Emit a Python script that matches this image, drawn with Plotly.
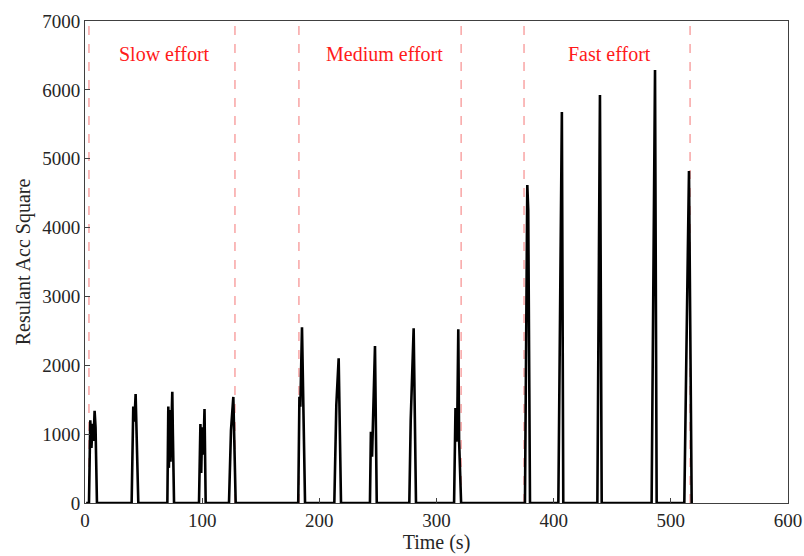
import plotly.graph_objects as go

# Time (s) and resultant acceleration square values
time_s = [1, 3.4, 4.5, 5.5, 6.5, 7.3, 8.2, 9.0, 10.2,
          39.8, 41.2, 42.2, 43.2, 45.5,
          70.3, 71.1, 71.6, 72.3, 73.0, 74.5, 75.0, 76.0,
          97.3, 98.5, 99.2, 100.0, 101.0, 102.0, 103.0,
          122.9, 124.6, 126.6, 128.6,
          182.0, 183.0, 183.8, 185.2, 187.8,
          212.8, 214.5, 216.5, 218.5,
          243.2, 244.0, 245.0, 247.5, 249.0,
          276.8, 278.0, 280.5, 282.5,
          315.0, 316.2, 317.0, 317.8, 318.6, 319.3, 321.0,
          375.5, 377.5, 378.3, 379.8,
          404.0, 407.0, 408.2,
          437.3, 439.5, 441.0,
          483.6, 486.5, 487.9,
          511.5, 513.3, 515.5, 517.8]
acc_sq = [0, 0, 1200, 800, 1150, 900, 1340, 1100, 0,
          0, 1400, 1180, 1583, 0,
          0, 1400, 510, 1350, 600, 1616, 1000, 0,
          0, 1147, 435, 1100, 700, 1365, 0,
          0, 1060, 1540, 0,
          0, 1544, 1400, 2551, 0,
          0, 1423, 2101, 0,
          0, 1035, 672, 2280, 0,
          0, 1205, 2537, 0,
          0, 1380, 890, 1300, 2522, 900, 0,
          0, 4618, 4250, 0,
          0, 5678, 0,
          0, 5925, 0,
          0, 6288, 0,
          0, 2200, 4820, 0]

# Phase boundaries (s)
boundaries = [3.4, 128.0, 182.6, 321.0, 374.7, 516.4]
phase_labels = ["Slow effort", "Medium effort", "Fast effort"]
phase_label_x = [68, 256, 448]
phase_label_y = 6520

x_ticks = [0, 100, 200, 300, 400, 500, 600]
y_ticks = [0, 1000, 2000, 3000, 4000, 5000, 6000, 7000]

FONT = "Liberation Serif, DejaVu Serif, serif"

fig = go.Figure()
fig.add_trace(go.Scatter(x=time_s, y=acc_sq, mode="lines",
                         line=dict(color="black", width=2.6),
                         showlegend=False, hoverinfo="skip"))

for b in boundaries:
    fig.add_shape(type="line", xref="x", yref="paper", x0=b, x1=b, y0=0, y1=1,
                  line=dict(color="rgba(240,60,60,0.7)", width=1, dash="dash"),
                  layer="below")

for lab, lx in zip(phase_labels, phase_label_x):
    fig.add_annotation(x=lx, y=phase_label_y, text=lab, showarrow=False,
                       font=dict(family=FONT, size=20, color="#ff1a1a"))

axis_common = dict(showline=True, linecolor="#404040", linewidth=1, mirror=True,
                   ticks="inside", ticklen=5, tickcolor="#404040",
                   showgrid=False, zeroline=False, automargin=False,
                   tickfont=dict(family=FONT, size=19, color="#262626"))

fig.update_xaxes(range=[0, 600], tickvals=x_ticks,
                 title=dict(text="Time (s)", font=dict(family=FONT, size=20, color="#262626"), standoff=4),
                 **axis_common)
fig.update_yaxes(range=[0, 7000], tickvals=y_ticks,
                 title=dict(text="Resulant Acc Square", font=dict(family=FONT, size=20, color="#262626"), standoff=6),
                 **axis_common)

fig.update_layout(width=804, height=556,
                  margin=dict(l=85, r=16, t=21, b=53),
                  plot_bgcolor="white", paper_bgcolor="white")

fig.write_html("out.html", config={"displayModeBar": False},
               post_script="document.body.style.margin='0';document.body.style.overflow='hidden';")
